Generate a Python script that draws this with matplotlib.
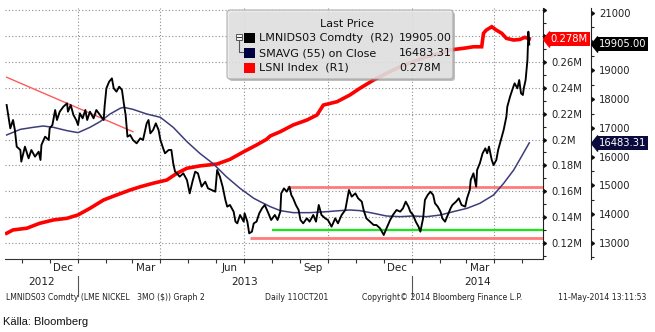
import datetime as dt
import numpy as np
import matplotlib
matplotlib.use("Agg")
import matplotlib.pyplot as plt
import matplotlib.dates as mdates
import matplotlib.transforms as mtransforms
from matplotlib.patches import FancyBboxPatch, Rectangle
from matplotlib.lines import Line2D

plt.rcParams['font.family'] = ['DejaVu Sans']

# ---------------- data ----------------
START = dt.datetime(2012, 10, 11)   # day 0 of the series

price_days = [4, 8, 11, 13, 15, 19, 20, 24, 28, 31, 35, 39, 41, 42, 46, 50, 51, 54, 57, 59,
              62, 66, 70, 71, 74, 77, 80, 82, 84, 87, 90, 92, 95, 99, 102, 106, 110, 111, 113, 116,
              119, 121, 124, 127, 130, 132, 134, 136, 139, 142, 146, 150, 153, 157, 159, 161, 164, 167, 170, 172,
              175, 177, 181, 184, 186, 188, 190, 193, 197, 201, 204, 207, 210, 213, 217, 221, 224, 228, 232, 234,
              237, 240, 243, 245, 248, 252, 254, 256, 259, 263, 264, 267, 269, 272, 274, 277, 280, 283, 286,
              290, 293, 297, 300, 303, 304, 307, 310, 313, 315, 317, 320, 323, 325, 328, 332, 335, 339, 342,
              345, 348, 352, 355, 359, 363, 366, 370, 374, 376, 378, 381, 385, 388, 392, 394, 397, 401, 405,
              408, 412, 416, 419, 423, 426, 430, 434, 437, 440, 443, 445, 448, 451, 454, 456, 459, 461, 464,
              467, 470, 472, 475, 478, 480, 483, 486, 489, 491, 495, 498, 501, 505, 507, 510, 511, 514, 517,
              518, 521, 524, 527, 529, 531, 534, 536, 539, 541, 543, 547, 550, 551, 554, 557, 559, 562, 564,
              566, 568, 569, 571, 573, 574, 575]
price_vals = [17800, 16988, 17278, 16930, 16351, 16235, 15829, 16351, 15945, 16235, 16003, 16177, 15887, 16409, 16698, 16583, 16988, 17104, 17626, 17278,
              17568, 17742, 17858, 17568, 17800, 17452, 17278, 17104, 17510, 17336, 17626, 17278, 17568, 17336, 17626, 17452, 17278, 17742, 18380, 18612,
              18727, 18380, 18264, 18438, 18322, 17858, 17452, 16698, 16756, 16583, 16467, 16641, 16583, 17162, 17278, 16814, 16930, 17162, 16930, 16583,
              16293, 16119, 16235, 16235, 15771, 15481, 15423, 15307, 15423, 15191, 14727, 15133, 15481, 15423, 14959, 15133, 14901, 14843, 14785, 15539,
              15307, 14959, 14496, 14264, 14322, 14090, 13742, 13684, 13974, 13742, 14032, 13742, 13336, 13394, 13684, 13742, 14032, 14206, 14322,
              14032, 13800, 13974, 13800, 14090, 14727, 14901, 14785, 14959, 14670, 14554, 14322, 14148, 13800, 13684, 13858, 13742, 13974, 13742,
              14322, 13974, 13858, 13800, 13568, 13858, 13684, 13974, 14148, 14496, 14843, 14612, 14727, 14554, 14438, 14148, 13858, 13742, 13626,
              13626, 13510, 13278, 13510, 13800, 13974, 14148, 14090, 14206, 14438, 14264, 14090, 13974, 13742, 13568, 13394, 13858, 14496, 14670,
              14785, 14670, 14380, 14264, 14090, 13858, 13742, 13974, 14206, 14322, 14438, 14554, 14322, 14264, 14554, 14843, 15191, 15423, 14959,
              15539, 15771, 16119, 16293, 16119, 16351, 15887, 15713, 15887, 16235, 16467, 16930, 17394, 17742, 18090, 18380, 18554, 18380, 18669,
              18206, 18148, 18380, 18669, 19365, 20350, 19905]

sma_days = [4, 19, 33, 44, 55, 70, 82, 95, 106, 117, 128, 132, 142, 157, 172, 186, 201, 215, 230, 244,
            259, 274, 281, 292, 303, 317, 335, 354, 368, 379, 390, 405, 419, 434, 448, 463, 478, 492, 507, 521,
            536, 547, 558, 566, 575]
sma_vals = [16757, 16953, 17023, 17069, 17023, 16907, 16838, 17023, 17220, 17487, 17684, 17719, 17649, 17487, 17371, 17023, 16525, 16119, 15748, 15307,
            14901, 14554, 14438, 14264, 14125, 14055, 14055, 14090, 14125, 14148, 14125, 14032, 13939, 13916, 13939, 13916, 13974, 14090, 14206, 14380,
            14670, 15075, 15539, 15980, 16483.31]

lsni_days = [4, 11, 26, 40, 55, 70, 82, 95, 110, 124, 139, 150, 164, 179, 190, 201, 215, 234, 248, 263,
             277, 288, 292, 303, 317, 332, 343, 350, 365, 379, 390, 405, 419, 434, 448, 463, 478, 488, 503, 514,
             523, 525, 528, 534, 539, 545, 550, 558, 565, 570, 575]
lsni_vals = [0.1275, 0.1301, 0.1314, 0.1352, 0.1378, 0.1391, 0.1417, 0.1468, 0.1533, 0.1571, 0.1610, 0.1635, 0.1662, 0.1687, 0.1739, 0.1778, 0.1796, 0.1811, 0.1847, 0.1906,
             0.1958, 0.2002, 0.2028, 0.2061, 0.2113, 0.2151, 0.2190, 0.2267, 0.2293, 0.2345, 0.2397, 0.2461, 0.2513, 0.2564, 0.2602, 0.2641, 0.2667, 0.2693, 0.2706, 0.2718,
             0.2718, 0.2822, 0.2847, 0.2873, 0.2847, 0.2822, 0.2783, 0.2770, 0.2775, 0.2791, 0.278]

trend_days = [4, 142]
trend_vals = [18765, 16871]
resist_level, resist_start = 14960, 310
green_level, green_start = 13452, 294
support_level, support_start = 13185, 270

last_price = 19905.00
last_sma = 16483.31
last_lsni = 0.278

legend_title = "Last Price"
legend_labels = ["LMNIDS03 Comdty  (R2)", "SMAVG (55) on Close", "LSNI Index  (R1)"]
legend_values = ["19905.00", "16483.31", "0.278M"]

r1_ticks = [0.12, 0.14, 0.16, 0.18, 0.20, 0.22, 0.24, 0.26, 0.28, 0.30]
r1_labels = ["0.12M", "0.14M", "0.16M", "0.18M", "0.2M", "0.22M", "0.24M", "0.26M", "", ""]
r2_ticks = [13000, 14000, 15000, 16000, 17000, 18000, 19000, 20000, 21000]
r2_labels = ["13000", "14000", "15000", "16000", "17000", "18000", "19000", "", "21000"]

month_labels = ["Dec", "Mar", "Jun", "Sep", "Dec", "Mar"]
month_label_dates = [dt.datetime(2012, 12, 16), dt.datetime(2013, 3, 16), dt.datetime(2013, 6, 15),
                     dt.datetime(2013, 9, 15), dt.datetime(2013, 12, 16), dt.datetime(2014, 3, 16)]
year_labels = ["2012", "2013", "2014"]
year_starts = [dt.datetime(2013, 1, 1), dt.datetime(2014, 1, 1)]
quarter_lines = [dt.datetime(2013, 1, 1), dt.datetime(2013, 4, 1), dt.datetime(2013, 7, 1),
                 dt.datetime(2013, 10, 1), dt.datetime(2014, 1, 1), dt.datetime(2014, 4, 1)]

x_left = dt.datetime(2012, 10, 13, 5)
x_right = dt.datetime(2014, 5, 24)

footer = ["LMNIDS03 Comdty (LME NICKEL   3MO ($)) Graph 2", "Daily 11OCT201",
          "Copyright\u00a9 2014 Bloomberg Finance L.P.", "11-May-2014 13:11:53"]
source = "Källa: Bloomberg"


def to_dates(days):
    return [START + dt.timedelta(days=float(d)) for d in days]


# ---------------- figure ----------------
W, H = 655, 332
fig = plt.figure(figsize=(W / 100, H / 100), dpi=100)
fig.patch.set_facecolor('white')


def fx(px):
    return px / W


def fy(py):
    return 1 - py / H


L, R, T, B = 5, 543, 8, 259
ax1 = fig.add_axes([fx(L), fy(B), (R - L) / W, (B - T) / H])
ax2 = ax1.twinx()
ax1.yaxis.set_ticks_position('right')
ax1.yaxis.set_label_position('right')

ax1.set_xlim(x_left, x_right)
ax1.set_ylim(0.1076, 0.3018)
ax2.set_ylim(12443, 21174)

grid_kw = dict(color='#8c8c8c', lw=0.8, ls=(0, (1, 2)))
ax1.set_yticks(r1_ticks)
ax1.set_yticklabels(r1_labels)
ax1.set_yticks(np.arange(0.11, 0.301, 0.01), minor=True)
ax1.grid(axis='y', which='major', **grid_kw)
ax1.set_axisbelow(True)
for q in quarter_lines:
    ax1.axvline(q, zorder=0.5, **grid_kw)

ax2.set_yticks(r2_ticks)
ax2.set_yticklabels(r2_labels)
ax2.set_yticks(np.arange(12500, 21001, 500), minor=True)

# spines
for s in ['left', 'top']:
    ax1.spines[s].set_visible(False)
    ax2.spines[s].set_visible(False)
ax2.spines['bottom'].set_visible(False)
ax1.spines['bottom'].set_color('#333333')
ax1.spines['right'].set_color('#222222')
ax2.spines['right'].set_color('#222222')
ax2.spines['right'].set_position(('outward', 48 * 0.72))

tick_font = 7.2
ax1.tick_params(axis='y', which='major', length=0, pad=6.3, labelsize=tick_font, labelcolor='#222222')
ax1.tick_params(axis='y', which='minor', length=2.2, width=0.8, color='#222222')
ax2.tick_params(axis='y', which='major', length=0, pad=5.8, labelsize=tick_font, labelcolor='#222222')
ax2.tick_params(axis='y', which='minor', length=2.2, width=0.8, color='#222222')

# month ticks on x axis
month_starts = [dt.datetime(y, m, 1) for y, m in
                [(2012, 11), (2012, 12)] + [(2013, k) for k in range(1, 13)] + [(2014, k) for k in range(1, 6)]]
ax1.set_xticks(month_starts)
ax1.tick_params(axis='x', which='major', length=3, width=0.8, direction='out',
                labelbottom=False, color='#333333')

# triangle major ticks
tri_tick = 9  # CARETRIGHTBASE
ax1.plot(np.ones(len(r1_ticks)), r1_ticks, transform=ax1.get_yaxis_transform(),
         ls='none', marker=tri_tick, ms=3.3, color='#111111', clip_on=False, zorder=6)
tr2 = ax2.get_yaxis_transform() + mtransforms.ScaledTranslation(48 / 100, 0, fig.dpi_scale_trans)
ax2.plot(np.ones(len(r2_ticks)), r2_ticks, transform=tr2,
         ls='none', marker=tri_tick, ms=3.3, color='#111111', clip_on=False, zorder=6)

# ---------------- series ----------------
ax1.plot(to_dates(lsni_days), lsni_vals, color='#ff0000', lw=2.6, solid_joinstyle='miter', zorder=2)

ax2.plot(to_dates(trend_days), trend_vals, color='#ff5a5a', lw=1.0, zorder=1.5)
ax2.hlines(resist_level, to_dates([resist_start])[0], x_right, color='#ff7b7b', lw=2.0, zorder=1.5)
ax2.hlines(support_level, to_dates([support_start])[0], x_right, color='#ff7b7b', lw=2.0, zorder=1.5)
ax2.hlines(green_level, to_dates([green_start])[0], x_right, color='#19e619', lw=1.6, zorder=1.6)
ax2.plot(to_dates(sma_days), sma_vals, color='#3d3d78', lw=1.1, zorder=2)
ax2.plot(to_dates(price_days), price_vals, color='black', lw=1.35, zorder=3)

# ---------------- value labels on the axes ----------------
tri_marker = [(0, 0), (0.4, 0.5), (0.4, -0.5), (0, 0)]


def value_tag(ax, trans, val, text, fc, xoff):
    ax.plot([1], [val], transform=trans, marker=tri_marker, ms=11, color=fc,
            ls='none', clip_on=False, zorder=7)
    ax.annotate(text, xy=(1, val), xycoords=ax.get_yaxis_transform(),
                xytext=(xoff + 7.5, 0), textcoords='offset pixels',
                ha='left', va='center', fontsize=tick_font, color='white',
                bbox=dict(boxstyle='square,pad=0.2', fc=fc, ec='none'),
                annotation_clip=False, zorder=7)


value_tag(ax1, ax1.get_yaxis_transform(), last_lsni, legend_values[2], '#ff0000', 0)
value_tag(ax2, tr2, last_price, legend_values[0], '#000000', 48)
value_tag(ax2, tr2, last_sma, legend_values[1], '#0a0a3c', 48)

# ---------------- x labels ----------------
for d, lab in zip(month_label_dates, month_labels):
    ax1.annotate(lab, xy=(d, 0), xycoords=('data', 'axes fraction'), xytext=(0, -9),
                 textcoords='offset pixels', ha='center', va='center', fontsize=7.4,
                 color='#222222', annotation_clip=False)
bounds = [x_left] + year_starts + [x_right]
for i, lab in enumerate(year_labels):
    mid = bounds[i] + (bounds[i + 1] - bounds[i]) / 2
    ax1.annotate(lab, xy=(mid, 0), xycoords=('data', 'axes fraction'), xytext=(0, -23),
                 textcoords='offset pixels', ha='center', va='center', fontsize=7.6,
                 color='#222222', annotation_clip=False)
sep_tr = mtransforms.blended_transform_factory(ax1.transData, fig.transFigure)
for d in year_starts:
    xd = mdates.date2num(d)
    fig.add_artist(Line2D([xd, xd], [fy(276), fy(296)], transform=sep_tr, color='#555555', lw=0.8))

# ---------------- footer ----------------
foot_x = [6, 265, 362, 558]
for x, t in zip(foot_x, footer):
    fig.text(fx(x), fy(298), t, fontsize=5.6, color='#222222', ha='left', va='center')
fig.text(fx(3), fy(322), source, fontsize=8, family=['Liberation Sans', 'DejaVu Sans'],
         color='#111111', ha='left', va='center')

# ---------------- legend box ----------------
ident = mtransforms.IdentityTransform()
bx0, by0, bx1, by1 = 227, 10, 453, 79
shadow = FancyBboxPatch((bx0 + 2, H - by1 - 2), bx1 - bx0, by1 - by0,
                        boxstyle='round,pad=0,rounding_size=3', transform=ident,
                        fc='#808080', ec='none', alpha=0.5, zorder=9)
box = FancyBboxPatch((bx0, H - by1), bx1 - bx0, by1 - by0,
                     boxstyle='round,pad=0,rounding_size=3', transform=ident,
                     fc='#e9e9e9', ec='#a0a0a0', lw=0.8, alpha=0.82, zorder=10)
fig.add_artist(shadow)
fig.add_artist(box)
fig.text(fx(347), fy(24), legend_title, fontsize=8, ha='center', va='center', color='#111111', zorder=11)
row_y = [38, 53, 68]
patch_cols = ['#000000', '#000040', '#ff0000']
for yy, lab, val, c in zip(row_y, legend_labels, legend_values, patch_cols):
    fig.add_artist(Rectangle((244, H - yy - 5.2), 10.5, 10.5, transform=ident,
                             fc=c, ec='none', zorder=11))
    fig.text(fx(259), fy(yy), lab, fontsize=8, ha='left', va='center', color='#111111', zorder=11)
    fig.text(fx(399), fy(yy), val, fontsize=8, ha='left', va='center', color='#111111', zorder=11)
# small tree icon
fig.add_artist(Rectangle((235.5, H - 39.5), 6, 6, transform=ident, fc='#f4f4f4', ec='#555555', lw=0.7, zorder=11))
fig.add_artist(Line2D([237, 240.5], [H - 36.5, H - 36.5], transform=ident, color='#333333', lw=0.7, zorder=12))
fig.add_artist(Line2D([238.5, 238.5, 243], [H - 39.5, H - 52, H - 52], transform=ident,
                      color='#555555', lw=0.8, zorder=11))

fig.savefig('out.png', dpi=100, facecolor='white')
